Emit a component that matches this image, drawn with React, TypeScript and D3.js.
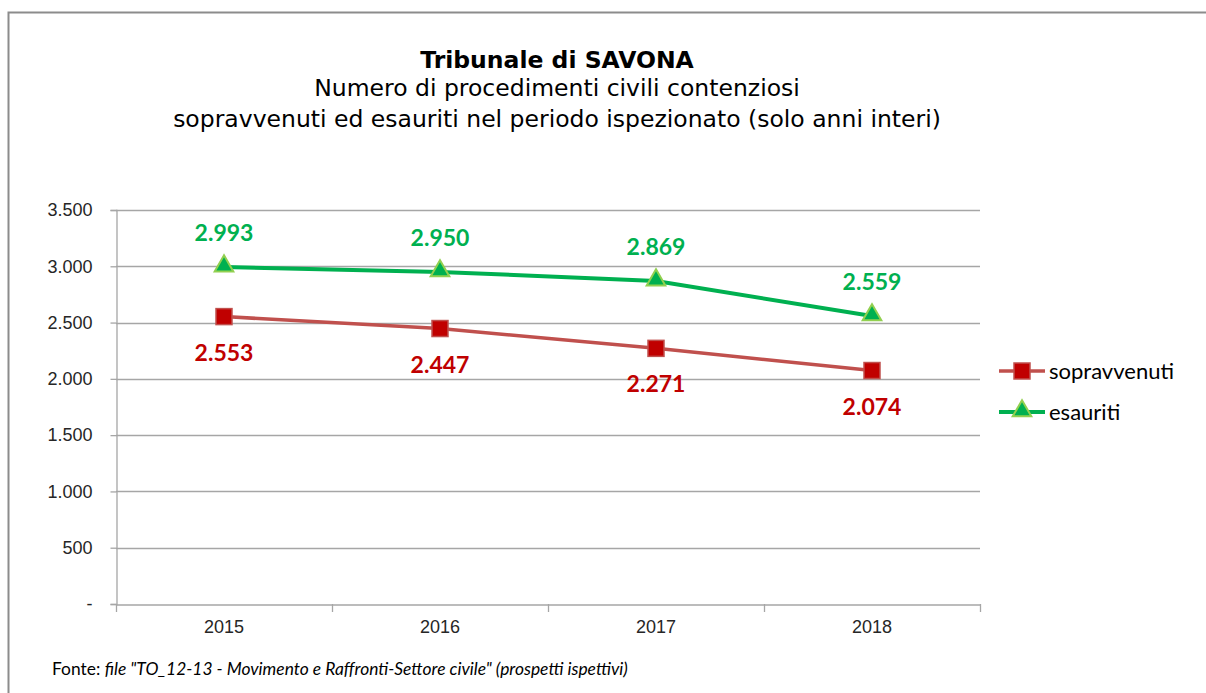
import { useEffect, useRef } from 'react';
import * as d3 from 'd3';

const years = ['2015', '2016', '2017', '2018'];
const sopravvenuti = [2553, 2447, 2271, 2074];
const esauriti = [2993, 2950, 2869, 2559];
const yTicks = [0, 500, 1000, 1500, 2000, 2500, 3000, 3500];

const W = 1206;
const H = 693;
const RED = '#c00000';
const RED_LINE = '#c0504d';
const GREEN = '#00b050';
const GREEN_EDGE = '#92d050';

const fmt = (v: number) => (v === 0 ? '-' : d3.format(',')(v).replace(/,/g, '.'));

export default function App() {
  const svgRef = useRef<SVGSVGElement>(null);

  useEffect(() => {
    if (!svgRef.current) return;
    const svg = d3.select(svgRef.current);
    svg.selectAll('*').remove();

    const left = 116, right = 980, top = 210, bottom = 604;

    const x = d3.scaleBand<string>().domain(years).range([left, right]);
    const y = d3.scaleLinear().domain([0, 3500]).range([bottom, top]);
    const cx = (d: string) => (x(d) ?? 0) + x.bandwidth() / 2;

    svg.append('rect').attr('width', W).attr('height', H).attr('fill', '#fff');

    // outer frame
    svg.append('path')
      .attr('d', `M8.5,${H} V12.5 H${W}`)
      .attr('fill', 'none')
      .attr('stroke', '#8c8c8c')
      .attr('stroke-width', 2);

    // titles
    const title = svg.append('g').attr('font-family', '"DejaVu Sans", sans-serif').attr('text-anchor', 'middle').attr('fill', '#000');
    title.append('text').attr('x', 557).attr('y', 68).attr('font-size', 23.5).attr('font-weight', 'bold').text('Tribunale di SAVONA');
    title.append('text').attr('x', 557).attr('y', 96).attr('font-size', 23.5).text('Numero di procedimenti civili contenziosi');
    title.append('text').attr('x', 557).attr('y', 127).attr('font-size', 23.5).text('sopravvenuti ed esauriti nel periodo ispezionato (solo anni interi)');

    // grid
    svg.append('g')
      .selectAll('line')
      .data(yTicks.filter(t => t > 0))
      .enter()
      .append('line')
      .attr('x1', left).attr('x2', right)
      .attr('y1', d => Math.round(y(d)) + 0.5).attr('y2', d => Math.round(y(d)) + 0.5)
      .attr('stroke', '#a6a6a6').attr('stroke-width', 1.3);

    // y axis
    const yAxis = svg.append('g').attr('transform', `translate(${left + 0.5},0)`)
      .call(d3.axisLeft(y).tickValues(yTicks).tickFormat(d => fmt(+d)).tickSize(6).tickPadding(18));
    yAxis.select('.domain').attr('stroke', '#a6a6a6').attr('stroke-width', 1.3);
    yAxis.selectAll('.tick line').attr('stroke', '#a6a6a6').attr('stroke-width', 1.3);
    yAxis.selectAll('.tick text').attr('font-family', '"Liberation Sans", Arial, sans-serif').attr('font-size', 18).attr('fill', '#262626');

    // x axis
    const xAxis = svg.append('g').attr('transform', `translate(0,${bottom + 0.5})`)
      .call(d3.axisBottom(x).tickSize(0).tickPadding(16));
    xAxis.select('.domain').attr('stroke', '#a6a6a6').attr('stroke-width', 1.3);
    xAxis.selectAll('.tick text').attr('font-family', '"Liberation Sans", Arial, sans-serif').attr('font-size', 18).attr('fill', '#262626');
    svg.append('g')
      .selectAll('line')
      .data([...years.map(d => x(d) ?? 0), right])
      .enter()
      .append('line')
      .attr('x1', d => d + 0.5).attr('x2', d => d + 0.5)
      .attr('y1', bottom).attr('y2', bottom + 8)
      .attr('stroke', '#a6a6a6').attr('stroke-width', 1.3);

    const line = d3.line<number>().x((_, i) => cx(years[i])).y(d => y(d));

    // sopravvenuti
    svg.append('path').datum(sopravvenuti).attr('d', line)
      .attr('fill', 'none').attr('stroke', RED_LINE).attr('stroke-width', 3.5);
    svg.append('g').selectAll('rect').data(sopravvenuti).enter().append('rect')
      .attr('x', (_, i) => cx(years[i]) - 8).attr('y', d => y(d) - 8)
      .attr('width', 16).attr('height', 16)
      .attr('fill', RED).attr('stroke', RED_LINE).attr('stroke-width', 1.5);

    // esauriti
    svg.append('path').datum(esauriti).attr('d', line)
      .attr('fill', 'none').attr('stroke', GREEN).attr('stroke-width', 4);
    const tri = d3.symbol().type(d3.symbolTriangle).size(150);
    svg.append('g').selectAll('path').data(esauriti).enter().append('path')
      .attr('d', tri)
      .attr('transform', (d, i) => `translate(${cx(years[i])},${y(d) - 1})`)
      .attr('fill', GREEN).attr('stroke', GREEN_EDGE).attr('stroke-width', 2);

    // data labels
    const labels = svg.append('g').attr('font-family', 'Lato, "Open Sans", sans-serif').attr('font-weight', 'bold').attr('font-size', 23).attr('text-anchor', 'middle');
    labels.selectAll('.lg').data(esauriti).enter().append('text')
      .attr('x', (_, i) => cx(years[i])).attr('y', d => y(d) - 26)
      .attr('fill', GREEN).text(d => fmt(d));
    labels.selectAll('.lr').data(sopravvenuti).enter().append('text')
      .attr('x', (_, i) => cx(years[i])).attr('y', d => y(d) + 44)
      .attr('fill', RED).text(d => fmt(d));

    // legend
    const legend = svg.append('g').attr('font-family', 'Lato, "Open Sans", sans-serif').attr('font-size', 22).attr('fill', '#000');
    const l1 = legend.append('g').attr('transform', 'translate(0,371)');
    l1.append('line').attr('x1', 999).attr('x2', 1045).attr('stroke', RED_LINE).attr('stroke-width', 3.5);
    l1.append('rect').attr('x', 1014).attr('y', -8).attr('width', 16).attr('height', 16).attr('fill', RED).attr('stroke', RED_LINE).attr('stroke-width', 1.5);
    l1.append('text').attr('x', 1049).attr('y', 8).text('sopravvenuti');
    const l2 = legend.append('g').attr('transform', 'translate(0,412)');
    l2.append('line').attr('x1', 999).attr('x2', 1045).attr('stroke', GREEN).attr('stroke-width', 4);
    l2.append('path').attr('d', tri).attr('transform', 'translate(1022,-1)').attr('fill', GREEN).attr('stroke', GREEN_EDGE).attr('stroke-width', 2);
    l2.append('text').attr('x', 1049).attr('y', 8).text('esauriti');

    // source
    const src = svg.append('text').attr('x', 52).attr('y', 675).attr('font-family', 'Lato, "Open Sans", sans-serif').attr('font-size', 17.4).attr('fill', '#000');
    src.append('tspan').text('Fonte: ');
    src.append('tspan').attr('font-style', 'italic').text('file "TO_12-13 - Movimento e Raffronti-Settore civile" (prospetti ispettivi)');
  }, []);

  return <svg ref={svgRef} width={W} height={H} style={{ position: 'absolute', left: 0, top: 0 }} />;
}
